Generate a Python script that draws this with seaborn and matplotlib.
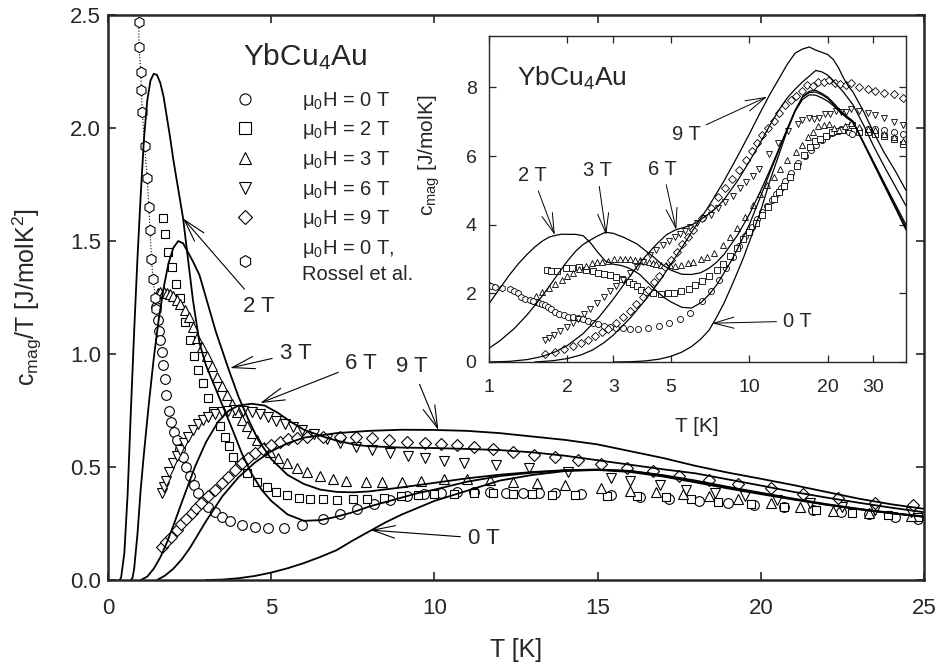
import numpy as np
import matplotlib
matplotlib.use("Agg")
import matplotlib.pyplot as plt
import seaborn as sns
from matplotlib.lines import Line2D

sns.set_style("ticks")
plt.rcParams["font.family"] = ["Liberation Sans", "DejaVu Sans"]
plt.rcParams["mathtext.fontset"] = "custom"
plt.rcParams["mathtext.rm"] = "Liberation Sans"
plt.rcParams["mathtext.it"] = "Liberation Sans"
plt.rcParams["mathtext.bf"] = "Liberation Sans:bold"

# -------------------------------
# measured c_mag/T [J/molK^2] vs T [K]
# -------------------------------
T_0T = [1.48, 1.52, 1.56, 1.60, 1.64, 1.68, 1.73, 1.79, 1.86, 1.94, 2.02, 2.10, 2.20, 2.30, 2.40,
        2.50, 2.63, 2.76, 2.91, 3.07, 3.27, 3.48, 3.75, 4.09, 4.5, 4.91, 5.4, 5.93, 6.6, 7.1, 7.63,
        8.15, 8.65, 9.15, 9.67, 10.2, 10.7, 11.2, 11.7, 12.2, 12.7, 13.2, 13.7, 14.5, 15.4, 16.3,
        17.2, 18.1, 19.0, 19.8, 20.7, 21.6, 22.45, 23.3, 24.1, 24.8]
c_0T = [1.21, 1.15, 1.10, 1.06, 1.01, 0.95, 0.89, 0.82, 0.75, 0.70, 0.655, 0.62, 0.58, 0.545, 0.50,
        0.46, 0.42, 0.385, 0.35, 0.325, 0.30, 0.28, 0.26, 0.245, 0.235, 0.229, 0.232, 0.243, 0.27, 0.29,
        0.315, 0.335, 0.354, 0.37, 0.38, 0.385, 0.39, 0.39, 0.388, 0.387, 0.386, 0.385, 0.384, 0.38,
        0.376, 0.368, 0.36, 0.35, 0.34, 0.332, 0.322, 0.312, 0.302, 0.29, 0.278, 0.268]

T_2T = [1.67, 1.73, 1.83, 1.97, 2.08, 2.21, 2.36, 2.5, 2.62, 2.77, 2.92, 3.07, 3.23, 3.44, 3.59,
        3.7, 3.84, 4.02, 4.25, 4.56, 4.87, 5.15, 5.48, 5.85, 6.2, 6.6, 7.0, 7.5, 7.93, 8.45, 8.96,
        9.5, 10.0, 10.6, 11.2, 11.8, 12.4, 13.0, 13.6, 14.3, 15.3, 16.2, 17.1, 17.85, 18.7, 19.7,
        20.7, 21.7, 22.8, 23.9, 24.8]
c_2T = [1.60, 1.53, 1.45, 1.386, 1.31, 1.25, 1.14, 1.06, 0.99, 0.93, 0.87, 0.805, 0.75, 0.68, 0.634,
        0.595, 0.545, 0.51, 0.475, 0.435, 0.41, 0.39, 0.376, 0.365, 0.36, 0.357, 0.356, 0.357, 0.36,
        0.365, 0.372, 0.377, 0.38, 0.382, 0.383, 0.383, 0.382, 0.38, 0.378, 0.376, 0.373, 0.372,
        0.367, 0.36, 0.347, 0.335, 0.324, 0.31, 0.296, 0.287, 0.278]

T_3T = [1.52, 1.6, 1.7, 1.8, 1.9, 2.0, 2.1, 2.22, 2.35, 2.48, 2.61, 2.72, 2.87, 3.03, 3.18, 3.33,
        3.48, 3.64, 3.8, 3.95, 4.1, 4.25, 4.4, 4.56, 4.77, 4.97, 5.2, 5.48, 5.8, 6.1, 6.5, 6.9, 7.3,
        7.9, 8.4, 9.0, 9.6, 10.3, 11.0, 11.7, 12.4, 13.15, 14.0, 15.1, 16.0, 16.8, 17.6, 18.4, 19.3,
        20.3, 21.2, 22.2, 23.3, 24.6]
c_3T = [1.27, 1.275, 1.275, 1.27, 1.265, 1.255, 1.24, 1.22, 1.195, 1.165, 1.12, 1.07, 1.03, 0.99,
        0.945, 0.90, 0.86, 0.82, 0.78, 0.745, 0.71, 0.68, 0.65, 0.62, 0.59, 0.567, 0.54, 0.517, 0.495,
        0.48, 0.46, 0.445, 0.437, 0.432, 0.432, 0.435, 0.44, 0.445, 0.445, 0.442, 0.435, 0.428, 0.42,
        0.405, 0.395, 0.39, 0.38, 0.373, 0.358, 0.342, 0.322, 0.305, 0.295, 0.283]

T_6T = [1.64, 1.7, 1.78, 1.88, 1.99, 2.1, 2.2, 2.32, 2.45, 2.6, 2.76, 2.92, 3.07, 3.27, 3.48, 3.69,
        3.89, 4.15, 4.4, 4.65, 4.91, 5.16, 5.42, 5.67, 5.93, 6.3, 6.7, 7.1, 7.6, 8.1, 8.65, 9.2, 9.7,
        10.3, 10.9, 11.9, 12.9, 14.1, 15.4, 16.0, 16.9, 17.7, 18.6, 19.5, 20.5, 21.5, 22.5, 23.5, 24.6]
c_6T = [0.384, 0.41, 0.44, 0.48, 0.516, 0.548, 0.575, 0.605, 0.634, 0.663, 0.69, 0.706, 0.72, 0.735,
        0.745, 0.75, 0.752, 0.75, 0.745, 0.735, 0.72, 0.705, 0.69, 0.675, 0.664, 0.645, 0.625, 0.605,
        0.59, 0.575, 0.56, 0.55, 0.54, 0.527, 0.516, 0.509, 0.494, 0.478, 0.45, 0.44, 0.42, 0.40,
        0.383, 0.37, 0.352, 0.34, 0.324, 0.31, 0.30]

T_9T = [1.64, 1.79, 1.94, 2.1, 2.25, 2.4, 2.56, 2.71, 2.86, 3.07, 3.27, 3.48, 3.68, 3.89, 4.09, 4.3,
        4.5, 4.75, 5.0, 5.26, 5.52, 5.8, 6.1, 6.6, 7.1, 7.6, 8.1, 8.6, 9.16, 9.7, 10.2, 10.7, 11.2,
        11.8, 12.4, 13.05, 13.7, 14.4, 15.1, 15.9, 16.7, 17.5, 18.4, 19.3, 20.3, 21.3, 22.35, 23.5, 24.65]
c_9T = [0.147, 0.168, 0.19, 0.22, 0.25, 0.272, 0.295, 0.318, 0.34, 0.37, 0.40, 0.43, 0.457, 0.487,
        0.516, 0.54, 0.56, 0.58, 0.597, 0.612, 0.622, 0.628, 0.632, 0.634, 0.634, 0.632, 0.627, 0.62,
        0.612, 0.608, 0.603, 0.597, 0.59, 0.578, 0.567, 0.555, 0.546, 0.53, 0.513, 0.497, 0.483, 0.46,
        0.443, 0.423, 0.405, 0.382, 0.362, 0.343, 0.33]

T_ros = [0.94, 0.95, 1.0, 1.02, 1.05, 1.12, 1.2, 1.25, 1.29, 1.33, 1.38, 1.44, 1.48]
c_ros = [2.47, 2.36, 2.25, 2.17, 2.07, 1.92, 1.78, 1.65, 1.55, 1.42, 1.33, 1.25, 1.20]

# data above 25 K, only in the inset (c_mag [J/molK])
T_hi = [26.5, 28.5, 30.5, 33, 36, 39]
hi_0T = [6.75, 6.8, 6.8, 6.75, 6.7, 6.65]
hi_2T = [6.7, 6.7, 6.65, 6.6, 6.5, 6.35]
hi_3T = [6.85, 6.8, 6.75, 6.65, 6.55, 6.45]
hi_6T = [7.3, 7.25, 7.2, 7.1, 7.0, 6.9]
hi_9T = [8.0, 7.95, 7.9, 7.85, 7.8, 7.7]

# -------------------------------
# model curves, c_mag/T
# -------------------------------
Tm_0T = [3.0, 3.5, 4.0, 4.5, 5.0, 5.5, 6.0, 6.5, 7.0, 7.5, 8.0, 8.5, 9.0, 9.5, 10, 11, 12, 13, 14,
         15, 16, 17, 18, 19, 20, 21, 22, 23, 24, 25]
m_0T = [0.0, 0.002, 0.008, 0.018, 0.033, 0.052, 0.075, 0.102, 0.132, 0.175, 0.215, 0.255, 0.29,
        0.32, 0.35, 0.395, 0.44, 0.465, 0.482, 0.487, 0.478, 0.458, 0.432, 0.405, 0.38, 0.356,
        0.333, 0.313, 0.295, 0.28]

Tm_2T = [0.35, 0.4, 0.5, 0.6, 0.7, 0.8, 0.9, 1.0, 1.1, 1.2, 1.3, 1.4, 1.5, 1.6, 1.7, 1.8, 1.9, 2.0,
         2.15, 2.3, 2.45, 2.6, 2.8, 3.0, 3.2, 3.4, 3.6, 3.8, 4.1, 4.4, 4.7, 5.0, 5.5, 6.0, 6.5, 7.0,
         7.5, 8, 8.5, 9, 9.5, 10, 11, 12, 13, 14, 15, 16, 17, 18, 19, 20, 21, 22, 23, 24, 25]
m_2T = [0.0, 0.01, 0.12, 0.38, 0.75, 1.10, 1.42, 1.70, 1.95, 2.12, 2.21, 2.24, 2.235, 2.20, 2.14,
        2.05, 1.96, 1.86, 1.73, 1.60, 1.42, 1.24, 1.05, 0.95, 0.88, 0.81, 0.74, 0.67, 0.56, 0.47,
        0.40, 0.35, 0.29, 0.262, 0.265, 0.28, 0.30, 0.325, 0.345, 0.365, 0.385, 0.40, 0.435, 0.46,
        0.475, 0.485, 0.488, 0.482, 0.462, 0.437, 0.41, 0.384, 0.358, 0.334, 0.314, 0.296, 0.28]

Tm_3T = [0.7, 0.75, 0.8, 0.9, 1.0, 1.1, 1.25, 1.4, 1.55, 1.7, 1.85, 2.0, 2.15, 2.3, 2.45, 2.6, 2.8,
         3.0, 3.3, 3.7, 4.0, 4.3, 4.6, 5.0, 5.5, 6.0, 6.5, 7.0, 7.5, 8, 9, 10, 11, 12, 13, 14, 15, 16,
         17, 18, 19, 20, 21, 22, 23, 24, 25]
m_3T = [0.0, 0.01, 0.05, 0.2, 0.40, 0.56, 0.78, 0.98, 1.15, 1.29, 1.40, 1.47, 1.50, 1.49, 1.45,
        1.41, 1.35, 1.25, 1.10, 0.93, 0.81, 0.71, 0.62, 0.535, 0.465, 0.425, 0.40, 0.39, 0.388,
        0.392, 0.41, 0.43, 0.45, 0.466, 0.478, 0.486, 0.489, 0.483, 0.464, 0.44, 0.412, 0.386,
        0.36, 0.336, 0.315, 0.297, 0.281]

Tm_6T = [1.0, 1.2, 1.4, 1.6, 1.8, 2.0, 2.3, 2.66, 3.0, 3.37, 3.7, 4.0, 4.4, 4.8, 5.2, 5.6, 6.0, 6.6,
         7.0, 7.6, 8, 9, 10, 11, 12, 13, 14, 15, 16, 17, 18, 19, 20, 21, 22, 23, 24, 25]
m_6T = [0.0, 0.015, 0.05, 0.10, 0.165, 0.24, 0.36, 0.50, 0.61, 0.70, 0.75, 0.772, 0.78, 0.772,
        0.74, 0.70, 0.665, 0.634, 0.617, 0.598, 0.592, 0.586, 0.584, 0.58, 0.575, 0.565, 0.55, 0.53,
        0.51, 0.49, 0.472, 0.445, 0.418, 0.39, 0.365, 0.342, 0.32, 0.30]

Tm_9T = [1.5, 1.75, 2.0, 2.25, 2.5, 2.75, 3.0, 3.5, 4.0, 4.5, 5.0, 5.5, 6.0, 7, 8, 9, 10, 11, 12,
         13, 14, 15, 16, 17, 18, 19, 20, 21, 22, 23, 24, 25]
m_9T = [0.0, 0.02, 0.05, 0.09, 0.14, 0.20, 0.26, 0.37, 0.455, 0.52, 0.57, 0.605, 0.63, 0.65,
        0.66, 0.665, 0.664, 0.66, 0.65, 0.635, 0.62, 0.60, 0.57, 0.54, 0.505, 0.475, 0.448, 0.42,
        0.39, 0.36, 0.335, 0.315]

# model above 25 K, only in the inset (c_mag)
Tm_hi = [27.5, 30, 33, 36.5, 40]
mhi_0T = [6.37, 5.78, 5.14, 4.47, 3.85]
mhi_2T = [6.37, 5.8, 5.18, 4.52, 3.92]
mhi_3T = [6.4, 5.84, 5.22, 4.58, 4.0]
mhi_6T = [6.9, 6.3, 5.7, 5.1, 4.55]
mhi_9T = [7.3, 6.7, 6.1, 5.55, 5.0]

data_sets = [(T_0T, c_0T, hi_0T, "o", 7.0),
             (T_2T, c_2T, hi_2T, "s", 6.3),
             (T_3T, c_3T, hi_3T, "^", 7.2),
             (T_6T, c_6T, hi_6T, "v", 7.2),
             (T_9T, c_9T, hi_9T, "D", 6.3)]
model_sets = [(Tm_0T, m_0T, mhi_0T), (Tm_2T, m_2T, mhi_2T), (Tm_3T, m_3T, mhi_3T),
              (Tm_6T, m_6T, mhi_6T), (Tm_9T, m_9T, mhi_9T)]


def draw_points(ax, x, y, marker, ms, mew=0.8):
    sns.lineplot(x=x, y=y, ax=ax, estimator=None, sort=False, color="black", linestyle="",
                 marker=marker, markersize=ms, markerfacecolor="white",
                 markeredgecolor="black", markeredgewidth=mew)


def draw_curve(ax, x, y, lw):
    sns.lineplot(x=x, y=y, ax=ax, estimator=None, sort=False, color="black", linewidth=lw)


fig = plt.figure(figsize=(9.37, 6.68), dpi=100)

# -------------------------------
# main panel
# -------------------------------
ax = fig.add_axes([0.1153, 0.1317, 0.8709, 0.8458])

for T, c, hi, mk, ms in data_sets:
    draw_points(ax, T, c, mk, ms)
sns.lineplot(x=T_ros, y=c_ros, ax=ax, estimator=None, sort=False, color="black",
             linestyle=":", linewidth=0.8, marker="h", markersize=7.5,
             markerfacecolor="white", markeredgecolor="black", markeredgewidth=0.8)
for Tm, m, mhi in model_sets:
    draw_curve(ax, Tm, m, 1.3)

ax.set_xlim(0, 25)
ax.set_ylim(0, 2.5)
ax.set_xticks([0, 5, 10, 15, 20, 25])
ax.set_yticks([0.0, 0.5, 1.0, 1.5, 2.0, 2.5])
ax.set_yticklabels(["0.0", "0.5", "1.0", "1.5", "2.0", "2.5"])
ax.tick_params(direction="in", length=6, width=1.2, top=True, right=True, labelsize=16)
ax.tick_params(axis="x", pad=13)
ax.tick_params(axis="y", pad=5)
for s in ax.spines.values():
    s.set_linewidth(1.8)
ax.set_xlabel("T [K]", fontsize=18)
ax.set_ylabel(r"c$_{\rm mag}$/T [J/molK$^2$]", fontsize=18)
ax.xaxis.set_label_coords(0.5, -0.102)
ax.yaxis.set_label_coords(-0.079, 0.5)

ax.text(0.165, 0.912, r"YbCu$_4$Au", transform=ax.transAxes, fontsize=21.5, va="baseline")

handles = [Line2D([], [], linestyle="", marker=mk, markersize=8 if mk != "D" else 7,
                  markerfacecolor="white", markeredgecolor="black", markeredgewidth=0.8)
           for _, _, _, mk, _ in data_sets]
handles.append(Line2D([], [], linestyle="", marker="h", markersize=8.5, markerfacecolor="white",
                      markeredgecolor="black", markeredgewidth=0.8))
labels = ["μ$_0$H = 0 T", "μ$_0$H = 2 T", "μ$_0$H = 3 T", "μ$_0$H = 6 T", "μ$_0$H = 9 T",
          "μ$_0$H = 0 T,\nRossel et al."]
leg = ax.legend(handles, labels, loc="upper left", bbox_to_anchor=(0.156, 0.868), frameon=False,
                fontsize=14.5, handlelength=1.0, handletextpad=2.3, labelspacing=0.38,
                borderpad=0, borderaxespad=0)
leg.get_texts()[-1].set_linespacing(1.35)

arrow = dict(arrowstyle="->, head_length=0.9, head_width=0.25", lw=0.8, color="black",
             shrinkA=3, shrinkB=0, mutation_scale=18)
main_notes = [("2 T", (2.30, 1.60), (4.63, 1.212)),
              ("3 T", (3.74, 0.938), (5.74, 1.004)),
              ("6 T", (4.66, 0.783), (7.76, 0.959)),
              ("9 T", (10.12, 0.664), (9.32, 0.944)),
              ("0 T", (8.04, 0.221), (11.51, 0.184))]
for txt, head, pos in main_notes:
    ax.annotate(txt, xy=head, xytext=pos, ha="center", va="center", fontsize=16,
                arrowprops=arrow)

# -------------------------------
# inset: c_mag vs T, log scale
# -------------------------------
ins = fig.add_axes([0.5219, 0.4581, 0.4450, 0.4880])
ins.set_facecolor("white")

for T, c, hi, mk, ms in data_sets:
    xi = list(T) + T_hi
    yi = list(np.array(T) * np.array(c)) + hi
    draw_points(ins, xi, yi, mk, ms * 0.62, mew=0.6)
draw_points(ins, T_ros, list(np.array(T_ros) * np.array(c_ros)), "h", 4.6, mew=0.6)
for Tm, m, mhi in model_sets:
    xi = list(Tm) + Tm_hi
    yi = list(np.array(Tm) * np.array(m)) + mhi
    draw_curve(ins, xi, yi, 0.9)

ins.set_xscale("log")
ins.set_xlim(1, 40)
ins.set_ylim(0, 9.5)
ins.set_xticks([1, 2, 3, 5, 10, 20, 30])
ins.set_xticklabels(["1", "2", "3", "5", "10", "20", "30"])
ins.xaxis.set_minor_locator(matplotlib.ticker.NullLocator())
ins.set_yticks([0, 2, 4, 6, 8])
ins.tick_params(direction="in", length=5, width=0.9, top=True, right=True, labelsize=14)
ins.tick_params(axis="x", pad=12)
ins.tick_params(axis="y", pad=9)
for s in ins.spines.values():
    s.set_linewidth(1.0)
ins.set_xlabel("T [K]", fontsize=15)
ins.set_ylabel(r"c$_{\rm mag}$ [J/molK]", fontsize=15)
ins.xaxis.set_label_coords(0.499, -0.168)
ins.yaxis.set_label_coords(-0.112, 0.635)

ins.text(0.067, 0.847, r"YbCu$_4$Au", transform=ins.transAxes, fontsize=19, va="baseline")

arrow_in = dict(arrowstyle="->, head_length=0.9, head_width=0.25", lw=0.7, color="black",
                shrinkA=2, shrinkB=0, mutation_scale=16)
inset_notes = [("2 T", (1.79, 3.70), (1.47, 5.43)),
               ("3 T", (2.82, 3.70), (2.60, 5.57)),
               ("6 T", (5.24, 3.85), (4.65, 5.62)),
               ("9 T", (11.7, 7.73), (5.71, 6.64)),
               ("0 T", (7.2, 1.13), (15.25, 1.19))]
for txt, head, pos in inset_notes:
    ins.annotate(txt, xy=head, xytext=pos, ha="center", va="center", fontsize=14.5,
                 arrowprops=arrow_in)

plt.savefig("out.png", dpi=100)
plt.close()
